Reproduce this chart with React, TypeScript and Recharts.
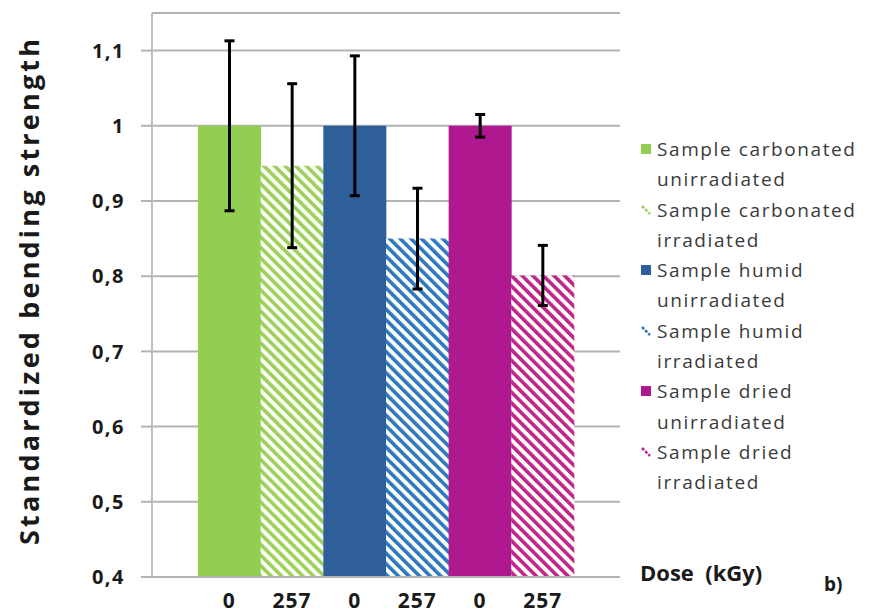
import React from "react";
import { BarChart, Bar, XAxis, YAxis, CartesianGrid, ErrorBar, Cell } from "recharts";

const DOSES = ["0", "257", "0", "257", "0", "257"];
const STRENGTH = [1, 0.947, 1, 0.85, 1, 0.801];
const ERRORS = [0.113, 0.109, 0.093, 0.067, 0.015, 0.04];
const SAMPLES = ["carbonated", "carbonated", "humid", "humid", "dried", "dried"];
const STATES = ["unirradiated", "irradiated", "unirradiated", "irradiated", "unirradiated", "irradiated"];
const Y_TICKS = [0.4, 0.5, 0.6, 0.7, 0.8, 0.9, 1, 1.1];

// solid colour / hatch colour per sample
const COLORS = ["#92cf50", "#9ccf5c", "#2f5f99", "#2f77c0", "#b0188f", "#c0248f"];
const HATCHED = [false, true, false, true, false, true];

const FONT = "'Open Sans', sans-serif";

const data = STRENGTH.map((v, i) => ({ key: `b${i}`, value: v, err: ERRORS[i] }));

const fillFor = (i: number) => (HATCHED[i] ? `url(#hatch${i})` : COLORS[i]);

function LegendBox() {
  return (
    <div
      style={{
        position: "absolute",
        left: 636,
        top: 134,
        width: 252,
        fontFamily: FONT,
        fontSize: 19,
        color: "#3a3a3a",
        lineHeight: "30.3px",
      }}
    >
      {STRENGTH.map((_, i) => (
        <div key={i} style={{ position: "relative", paddingLeft: 21, whiteSpace: "nowrap" }}>
          <svg width={12} height={12} style={{ position: "absolute", left: 4, top: 9 }}>
            {HATCHED[i] ? (
              <line x1={2} y1={2} x2={10} y2={10} stroke={COLORS[i]} strokeWidth={2.5} strokeDasharray="3 1.5" />
            ) : (
              <rect x={1} y={1} width={10} height={10} fill={COLORS[i]} />
            )}
          </svg>
          <div style={{ letterSpacing: 1.6 }}>{`Sample ${SAMPLES[i]}`}</div>
          <div style={{ letterSpacing: 1.6 }}>{STATES[i]}</div>
        </div>
      ))}
    </div>
  );
}

export default function App() {
  return (
    <div style={{ position: "absolute", left: 0, top: 0, width: 888, height: 616, background: "#fff" }}>
      <BarChart
        width={888}
        height={616}
        data={data}
        margin={{ top: 13, right: 268, left: 92, bottom: 0 }}
        barCategoryGap={0}
        barGap={0}
      >
        <defs>
          {COLORS.map((c, i) =>
            HATCHED[i] ? (
              <pattern
                key={i}
                id={`hatch${i}`}
                patternUnits="userSpaceOnUse"
                width={7.5}
                height={7.5}
                patternTransform="rotate(-45)"
              >
                <rect x={0} y={0} width={7.5} height={7.5} fill="#fcfff4" />
                <rect x={0} y={0} width={3.6} height={7.5} fill={c} />
              </pattern>
            ) : null
          )}
        </defs>
        <CartesianGrid vertical={false} stroke="#b3b3b3" strokeWidth={2} />
        <XAxis
          dataKey="key"
          padding={{ left: 46, right: 46 }}
          height={39}
          tickFormatter={(_: string, i: number) => DOSES[i]}
          tick={{ fontFamily: FONT, fontWeight: 700, fontSize: 21, fill: "#1a1a1a", letterSpacing: 1 }}
          tickLine={false}
          axisLine={{ stroke: "#b3b3b3", strokeWidth: 2 }}
          tickMargin={10}
          interval={0}
        />
        <YAxis
          width={60}
          domain={[0.4, 1.15]}
          ticks={Y_TICKS}
          allowDataOverflow
          tickFormatter={(v: number) => String(Math.round(v * 10) / 10).replace(".", ",")}
          tick={{ fontFamily: FONT, fontWeight: 700, fontSize: 20, fill: "#1a1a1a", letterSpacing: 1.5 }}
          tickLine={{ stroke: "#b3b3b3", strokeWidth: 2 }}
          tickSize={11}
          tickMargin={16}
          axisLine={{ stroke: "#bfbfbf", strokeWidth: 2 }}
          label={{
            content: () => (
              <text
                x={39}
                y={292}
                transform="rotate(-90 39 292)"
                textAnchor="middle"
                fontFamily={FONT}
                fontWeight={700}
                fontSize={27}
                fill="#1a1a1a"
                textLength={506}
                lengthAdjust="spacing"
              >
                Standardized bending strength
              </text>
            ),
          }}
        />
        <Bar dataKey="value" isAnimationActive={false}>
          {data.map((d, i) => (
            <Cell key={d.key} fill={fillFor(i)} />
          ))}
          <ErrorBar dataKey="err" width={5} stroke="#000" strokeWidth={3} isAnimationActive={false} />
        </Bar>
      </BarChart>
      <LegendBox />
      <div
        style={{
          position: "absolute",
          left: 640,
          top: 557,
          fontFamily: FONT,
          fontWeight: 700,
          fontSize: 22,
          color: "#1a1a1a",
          whiteSpace: "pre",
        }}
      >
        {"Dose  (kGy)"}
      </div>
      <div
        style={{
          position: "absolute",
          left: 824,
          top: 571,
          fontFamily: FONT,
          fontWeight: 700,
          fontSize: 19,
          color: "#1a1a1a",
        }}
      >
        b)
      </div>
    </div>
  );
}
